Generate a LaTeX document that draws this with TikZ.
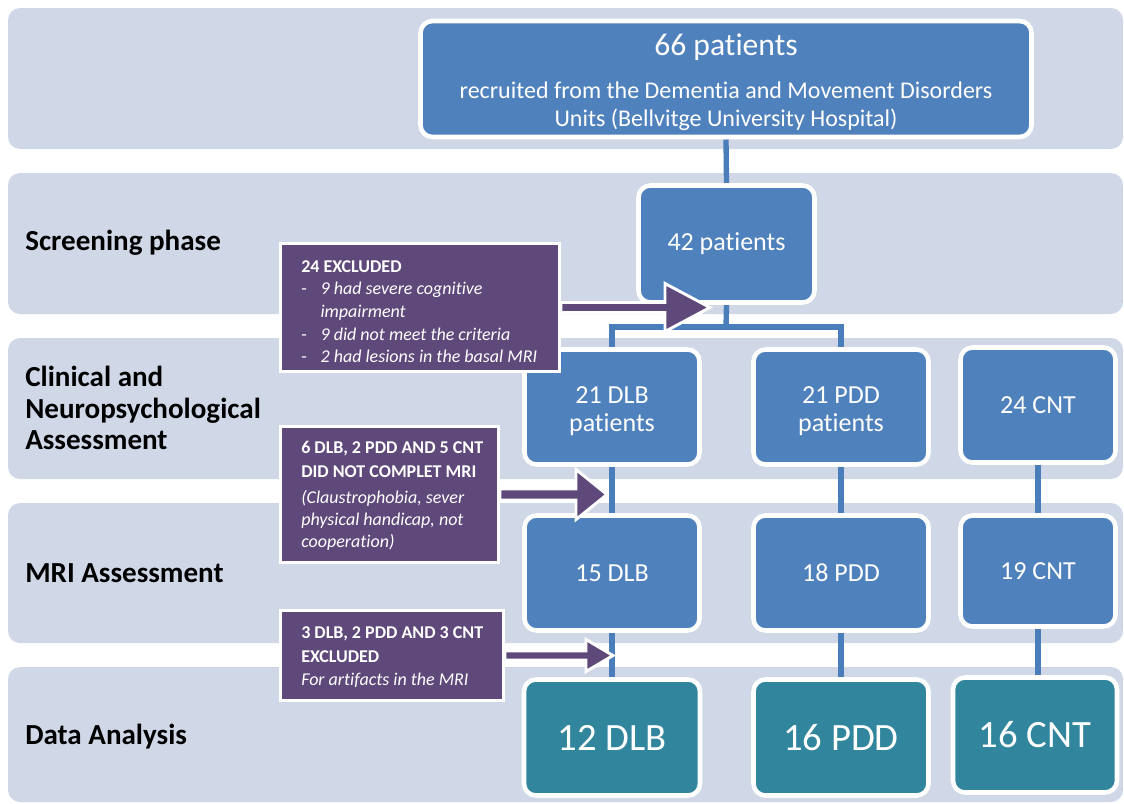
\documentclass[tikz,border=0pt]{standalone}
\usepackage{fontspec}
\setmainfont{Carlito}[Ligatures={NoCommon,NoContextual,NoRare}, RawFeature={-calt}]
\usetikzlibrary{calc}
\definecolor{bandc}{HTML}{D0D8E8}
\definecolor{bluec}{HTML}{4F81BD}
\definecolor{tealc}{HTML}{31859C}
\definecolor{purplec}{HTML}{5F497A}
\definecolor{connc}{HTML}{4A7EBB}
\pgfdeclarelayer{bg}
\pgfsetlayers{bg,main}
\newcommand\pdash{\makebox[14.5pt][l]{-}}
\newcommand\pind{\hspace*{14.5pt}}
\begin{document}
\begin{tikzpicture}[x=0.75pt,y=-0.75pt,
  band/.style={fill=bandc, rounded corners=9pt},
  bandlabel/.style={anchor=west, align=left, font=\fontsize{21.8}{23.6}\selectfont\bfseries, inner sep=0pt},
  sz/.style 2 args={minimum width={#1*0.75pt}, minimum height={#2*0.75pt}},
  bbox/.style={rectangle, rounded corners=9pt, draw=white, line width=3.4pt, fill=bluec, text=white, align=center, inner sep=0pt},
  midtext/.style={font=\fontsize{19.5}{21}\selectfont},
  bigtext/.style={font=\fontsize{29}{32}\selectfont},
  tbox/.style={bbox, fill=tealc},
  pbox/.style={rectangle, fill=purplec, draw=white, line width=2.2pt, inner sep=0pt},
  ptext/.style={anchor=north west, align=left, text=white, inner sep=0pt, font=\fontsize{13.5}{16.5}\selectfont},
  conn/.style={draw=connc, line width=4pt},
  parrow/.style={fill=purplec, draw=white, line width=2.2pt, line join=miter}
]
\useasboundingbox (0,0) rectangle (1124,803);
\begin{pgfonlayer}{bg}
\fill[band] (8,8) rectangle (1123,149);
\fill[band] (8,173) rectangle (1123,314);
\fill[band] (8,338) rectangle (1123,479);
\fill[band] (8,503) rectangle (1123,643);
\fill[band] (8,667) rectangle (1123,802);
\end{pgfonlayer}

% row labels
\node[bandlabel] (lab1) at (25,243) {Screening phase};
\node[bandlabel] (lab2) at (25,408) {Clinical and\\Neuropsychological\\Assessment};
\node[bandlabel] (lab3) at (25,573) {MRI Assessment};
\node[bandlabel] (lab4) at (25,737) {Data Analysis};

% blue boxes
\node[bbox, sz={611}{116}, font=\fontsize{18}{21}\selectfont] (top) at (726,79) {{\fontsize{23.7}{28}\selectfont\rule{0pt}{21.5pt}66 patients}\\[11pt]recruited from the Dementia and Movement Disorders\\Units (Bellvitge University Hospital)};
\node[bbox, midtext, sz={176}{117}] (p42) at (726.5,244) {42 patients};
\node[bbox, midtext, sz={175}{115}] (dlb21) at (612,407) {\rule{0pt}{18.5pt}21 DLB\\patients};
\node[bbox, midtext, sz={175}{115}] (pdd21) at (841,407) {\rule{0pt}{18.5pt}21 PDD\\patients};
\node[bbox, midtext, sz={155}{115}] (cnt24) at (1038,405) {24 CNT};
\node[bbox, midtext, sz={175}{115}] (dlb15) at (612,573) {15 DLB};
\node[bbox, midtext, sz={175}{115}] (pdd18) at (841,573) {18 PDD};
\node[bbox, midtext, sz={155}{111}] (cnt19) at (1038,571) {19 CNT};
\node[tbox, bigtext, sz={176}{116}] (dlb12) at (612,737.5) {12 DLB};
\node[tbox, bigtext, sz={175}{116}] (pdd16) at (841,737.5) {16 PDD};
\node[tbox, bigtext, sz={164}{115}] (cnt16) at (1035,735) {16 CNT};

% connectors
\begin{pgfonlayer}{bg}
\coordinate (split) at (726,327);
\draw[conn] (top.south) -- (p42.north);
\draw[conn] (p42.south) -- (split);
\draw[conn] (dlb21.north) |- (split) -| (pdd21.north);
\draw[conn] (dlb21.south) -- (dlb15.north);
\draw[conn] (dlb15.south) -- (dlb12.north);
\draw[conn] (pdd21.south) -- (pdd18.north);
\draw[conn] (pdd18.south) -- (pdd16.north);
\draw[conn] (cnt24.south) -- (cnt19.north);
\draw[conn] (cnt19.south) -- (cnt19.south |- cnt16.north);
\end{pgfonlayer}

% exclusion boxes
\node[pbox, sz={279}{128}] (ex1) at (420,307.5) {};
\node[pbox, sz={218}{136}] (ex2) at (389.5,494.5) {};
\node[pbox, sz={223}{90}] (ex3) at (392,655.5) {};

\begin{scope}
\clip (ex1.north west) rectangle ($(ex1.south east)+(0,-10)$);
\node[ptext, font=\fontsize{13.5}{17}\selectfont] (tx1) at (301,260) {\textbf{24 EXCLUDED}\\
\pdash\textit{9 had severe cognitive}\\
\pind\textit{impairment}\\
\pdash\textit{9 did not meet the criteria}\\
\pdash\textit{2 had lesions in the basal MRI}};
\end{scope}
\node[ptext] (tx2) at (301,441) {\textbf{6 DLB, 2 PDD AND 5 CNT}\\[1.2pt]
\textbf{DID NOT COMPLET MRI}\\[3.2pt]
\textit{(Claustrophobia, sever}\\
\textit{physical handicap, not}\\
\textit{cooperation)}};
\node[ptext] (tx3) at (301,626) {\textbf{3 DLB, 2 PDD AND 3 CNT}\\[1.5pt]
\textbf{EXCLUDED}\\[1pt]
\textit{For artifacts in the MRI}};

% arrows
\coordinate (t1) at (710,307.5);
\coordinate (t2) at (607,494.5);
\coordinate (t3) at (613,655.5);
\draw[parrow] ($(ex1.east)+(0,-5)$) -- ($(t1)+(-45,-5)$) -- ($(t1)+(-45,-24)$) -- (t1) -- ($(t1)+(-45,24)$) -- ($(t1)+(-45,5)$) -- ($(ex1.east)+(0,5)$) -- cycle;
\draw[parrow] ($(ex2.east)+(0,-5.5)$) -- ($(t2)+(-31,-5.5)$) -- ($(t2)+(-31,-25)$) -- (t2) -- ($(t2)+(-31,25)$) -- ($(t2)+(-31,5.5)$) -- ($(ex2.east)+(0,5.5)$) -- cycle;
\draw[parrow] ($(ex3.east)+(0,-4.5)$) -- ($(t3)+(-27,-4.5)$) -- ($(t3)+(-27,-16)$) -- (t3) -- ($(t3)+(-27,16)$) -- ($(t3)+(-27,4.5)$) -- ($(ex3.east)+(0,4.5)$) -- cycle;
\end{tikzpicture}
\end{document}
